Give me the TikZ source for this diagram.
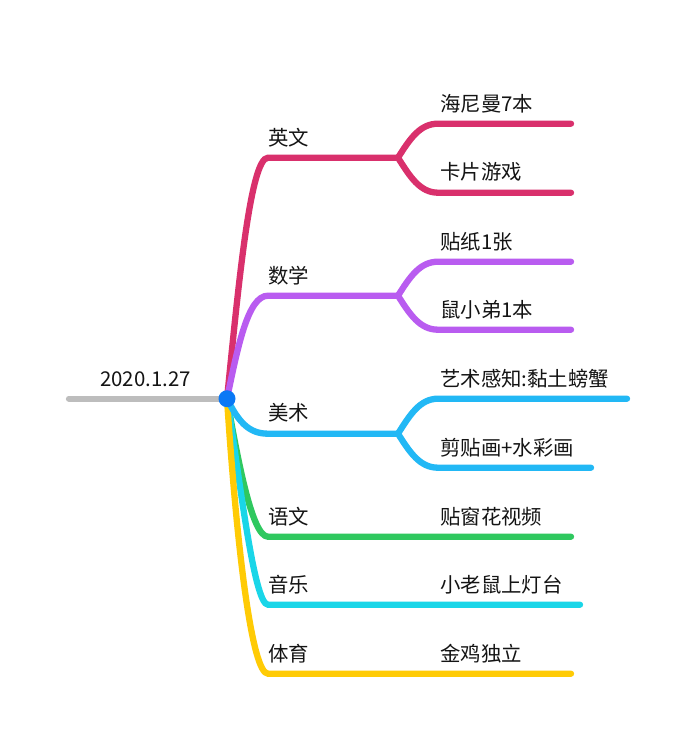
\documentclass[tikz,border=0pt]{standalone}
\usepackage{fontspec}
\setmainfont{Noto Sans CJK SC}
\definecolor{cgray}{HTML}{BDBDBD}
\definecolor{cred}{HTML}{D9306C}
\definecolor{cpurple}{HTML}{B95CF0}
\definecolor{cblue}{HTML}{22B8F5}
\definecolor{cgreen}{HTML}{2FC85F}
\definecolor{ccyan}{HTML}{1AD6E8}
\definecolor{cyellow}{HTML}{FFCB05}
\definecolor{cdot}{HTML}{0A78F5}
\tikzset{
  lbl/.style={font=\fontsize{20.4}{24}\selectfont,text=black!92,inner sep=0pt,anchor=base west},
  branch/.style={line width=6.3pt,line cap=round},
}
\newcommand{\mainbr}[5]{%
  \draw[branch,#1] (root) .. controls #2 and #3 .. (#4) -- (#5);}
\newcommand{\subbr}[5]{%
  \draw[branch,#1] (#2) .. controls #3 and ($(#4)+(-18,0)$) .. (#4) -- (#5);}
\usetikzlibrary{calc}
\begin{document}
\begin{tikzpicture}[x=1pt,y=-1pt]
\useasboundingbox (0,0) rectangle (695,743);
\fill[white] (0,0) rectangle (695,743);
\begin{scope}[yshift=-0.7pt]
\coordinate (start) at (69,398);
\coordinate (root) at (227,398);
\coordinate (e1) at (268,157); \coordinate (j1) at (398,157);
\coordinate (a1) at (438,123); \coordinate (a1e) at (571,123);
\coordinate (b1) at (438,192); \coordinate (b1e) at (571,192);
\coordinate (e2) at (268,295); \coordinate (j2) at (398,295);
\coordinate (a2) at (438,261); \coordinate (a2e) at (571,261);
\coordinate (b2) at (438,329); \coordinate (b2e) at (571,329);
\coordinate (e3) at (268,433); \coordinate (j3) at (398,433);
\coordinate (a3) at (438,398); \coordinate (a3e) at (627,398);
\coordinate (b3) at (438,467); \coordinate (b3e) at (591,467);
\coordinate (e4) at (268,536); \coordinate (x4) at (571,536);
\coordinate (e5) at (268,604); \coordinate (x5) at (580,604);
\coordinate (e6) at (268,673); \coordinate (x6) at (571,673);
\draw[branch,cgray] (start) -- (root);
\mainbr{cred}{(238,290)}{(250,157)}{e1}{j1}
\subbr{cred}{j1}{(410,138)}{a1}{a1e}
\subbr{cred}{j1}{(410,176)}{b1}{b1e}
\mainbr{cpurple}{(238,345)}{(248,295)}{e2}{j2}
\subbr{cpurple}{j2}{(410,276)}{a2}{a2e}
\subbr{cpurple}{j2}{(410,314)}{b2}{b2e}
\mainbr{cgreen}{(238,460)}{(252,536)}{e4}{x4}
\mainbr{ccyan}{(240,480)}{(254,604)}{e5}{x5}
\mainbr{cyellow}{(237,550)}{(252,673)}{e6}{x6}
\mainbr{cblue}{(238,420)}{(248,433)}{e3}{j3}
\subbr{cblue}{j3}{(410,414)}{a3}{a3e}
\subbr{cblue}{j3}{(410,452)}{b3}{b3e}
\fill[cdot] (root) circle (8.5);
\end{scope}
\node[lbl] (t0) at (100,386) {2020.1.27};
\node[lbl] (t1) at (268,145.5) {英文};
\node[lbl] (t11) at (440,111.5) {海尼曼7本};
\node[lbl] (t12) at (440,180) {卡片游戏};
\node[lbl] (t2) at (268,283) {数学};
\node[lbl] (t21) at (440,249) {贴纸1张};
\node[lbl] (t22) at (440,317) {鼠小弟1本};
\node[lbl] (t3) at (268,420) {美术};
\node[lbl] (t31) at (440,386) {艺术感知:黏土螃蟹};
\node[lbl] (t32) at (440,455) {剪贴画+水彩画};
\node[lbl] (t4) at (268,524) {语文};
\node[lbl] (t41) at (440,524) {贴窗花视频};
\node[lbl] (t5) at (268,592) {音乐};
\node[lbl] (t51) at (440,592) {小老鼠上灯台};
\node[lbl] (t6) at (268,661) {体育};
\node[lbl] (t61) at (440,661) {金鸡独立};
\end{tikzpicture}
\end{document}
